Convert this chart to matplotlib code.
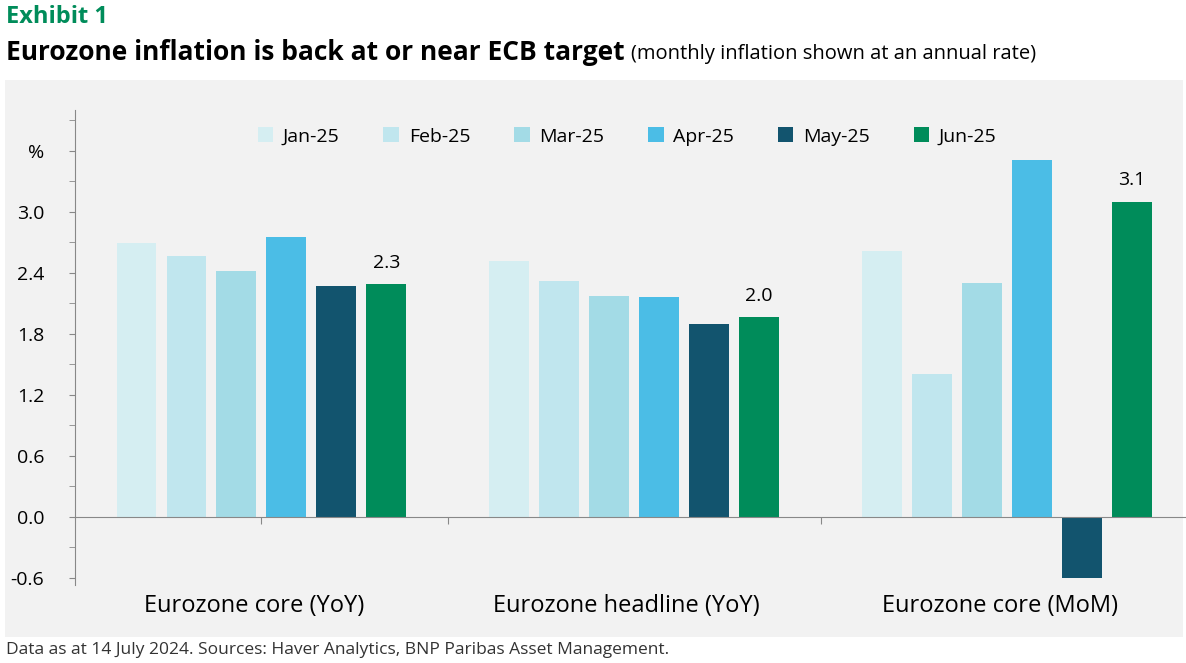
import numpy as np
import matplotlib.pyplot as plt
from matplotlib.patches import Rectangle

plt.rcParams['font.family'] = ['Open Sans', 'DejaVu Sans']

groups = ['Eurozone core (YoY)', 'Eurozone headline (YoY)', 'Eurozone core (MoM)']
months = ['Jan-25', 'Feb-25', 'Mar-25', 'Apr-25', 'May-25', 'Jun-25']
colors = ['#d5eef2', '#c0e6ee', '#a3dbe6', '#4bbde6', '#12546e', '#008c5a']
values = {
    'Jan-25': [2.69, 2.52, 2.61],
    'Feb-25': [2.56, 2.32, 1.40],
    'Mar-25': [2.42, 2.17, 2.30],
    'Apr-25': [2.75, 2.16, 3.51],
    'May-25': [2.27, 1.90, -0.60],
    'Jun-25': [2.29, 1.96, 3.10],
}
jun_labels = ['2.3', '2.0', '3.1']

fig = plt.figure(figsize=(11.86, 6.63), dpi=100)
fig.patches.append(Rectangle((5/1186, 1-637/663), 1178/1186, 557/663,
                             transform=fig.transFigure, facecolor='#f2f2f2',
                             edgecolor='none', zorder=-1))
fig.text(6/1186, 1-17/663, 'Exhibit 1', color='#008c5a', fontsize=17,
         fontweight='bold', va='center')
t = fig.text(6/1186, 1-52/663, 'Eurozone inflation is back at or near ECB target',
             fontsize=19, fontweight='bold', va='center')
fig.canvas.draw()
bb = t.get_window_extent()
fig.text((bb.x1 + 6) / 1186, 1-54/663, '(monthly inflation shown at an annual rate)',
         fontsize=14.5, va='center')
fig.text(6/1186, 1-650/663,
         'Data as at 14 July 2024. Sources: Haver Analytics, BNP Paribas Asset Management.',
         fontsize=12.5, color='#333333', va='center')

ax = fig.add_axes([75/1186, 1-585/663, 1111/1186, 475/663])
ax.set_facecolor('none')
x = np.arange(len(groups))
w = 0.107
step = 0.134
for i, m in enumerate(months):
    ax.bar(x + (i - 2.5) * step, values[m], w, color=colors[i], label=m)
for j in range(3):
    v = values['Jun-25'][j]
    ax.text(x[j] + 2.5 * step, v + 0.12, jun_labels[j], ha='center', va='bottom',
            fontsize=14)

ax.set_xlim(-0.5, 2.48)
ax.set_ylim(-0.67, 4.0)
ax.set_yticks([-0.6, 0.0, 0.6, 1.2, 1.8, 2.4, 3.0, 3.6])
ax.set_yticklabels(['-0.6', '0.0', '0.6', '1.2', '1.8', '2.4', '3.0', '%'])
ax.set_yticks(np.arange(-0.6, 3.91, 0.3), minor=True)
ax.tick_params(axis='y', which='both', direction='out', length=4, color='#888888',
               labelsize=14, pad=18)
ax.spines['top'].set_visible(False)
ax.spines['right'].set_visible(False)
ax.spines['left'].set_color('#888888')
ax.spines['bottom'].set_position(('data', 0))
ax.spines['bottom'].set_color('#888888')
ax.set_xticks([0, 0.5, 1.5])
ax.set_xticklabels([])
ax.tick_params(axis='x', direction='out', length=5, color='#888888')
for j, g in enumerate(groups):
    ax.text(x[j] - 0.02, -0.88, g, ha='center', va='center', fontsize=17)

ax.legend(loc='upper center', bbox_to_anchor=(0.497, 1.0), ncol=6, frameon=False,
          fontsize=14, handlelength=0.8, handleheight=0.8, columnspacing=2.25,
          handletextpad=0.5)

fig.savefig('out.png', dpi=100)
